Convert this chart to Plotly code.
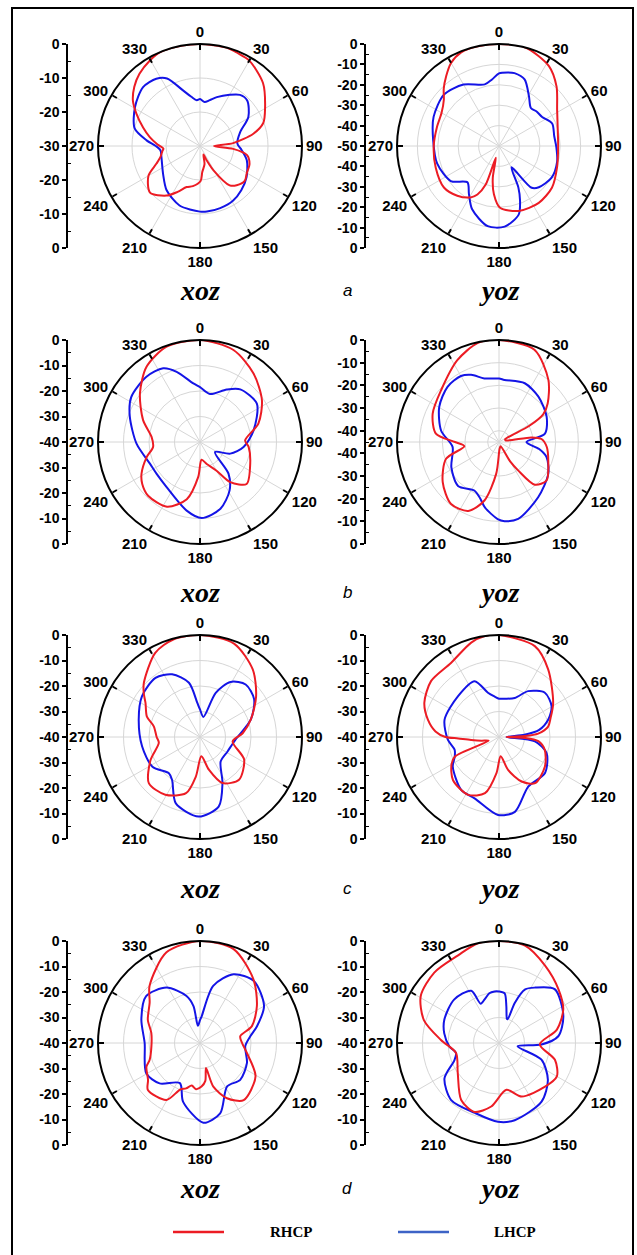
import plotly.graph_objects as go

W, H = 637, 1255

# ---------------- data: angle (deg, clockwise from top) and gain (dB) ----------------
A_XOZ_RHCP_DEG = [0,15,22,30,45,60,70,77,85,90,95,101,110,120,128,137,143,151,155,158,166,175,179,190,198,206,214,227,240,248,255,262,266,272,280,288,297,304,312,320,330,337,350,360]
A_XOZ_RHCP_DB = [0,0,-0.5,-1,-3.8,-7.9,-10.2,-13.9,-20.2,-25.9,-20.2,-15.9,-14.5,-14.1,-13.3,-14.2,-15.5,-21.8,-25.4,-27.3,-24.5,-22.3,-19.7,-18,-17.3,-15,-12.4,-9.9,-12.5,-16.2,-18,-18.8,-19.2,-17.5,-15,-12.4,-9,-6.2,-4,-2.3,-0.8,0,0,0]
A_XOZ_LHCP_DEG = [0,6,12,19,30,38,46,59,71,86,95,107,124,137,149,162,174,180,199,217,233,254,264,270,276,285,301,316,327,334,343,350,356,360]
A_XOZ_LHCP_DB = [-16.2,-17,-16.2,-14.8,-12.6,-10.9,-10.7,-13.4,-17.5,-19,-17.8,-15.6,-13.5,-12.2,-11.2,-10.8,-10.6,-10.7,-11.5,-13.7,-16.4,-18.2,-18.3,-17,-14.2,-10.1,-7.7,-5.9,-6.4,-7.9,-12.9,-15.3,-16.5,-16.2]

A_YOZ_RHCP_DEG = [0,15,32,44,58,78,90,110,128,145,163,179,186,191,195,199,204,209,220,233,251,270,287,300,310,316,323,330,338,348,360]
A_YOZ_RHCP_DB = [0,0,-3.8,-9.4,-16.4,-20.5,-21,-19.7,-17,-16,-16.7,-19.7,-26.2,-34,-44,-30,-24,-21.2,-18.2,-16.2,-17.2,-18,-18.2,-17.5,-14.7,-11,-7,-3,-0.5,0,0]
A_YOZ_LHCP_DEG = [0,7,12,21,31,40,47,56,67,80,91,105,121,136,142,149.6,155,159,164,176,188,203,212,221,234,254,275,294,313,330,347,354,360]
A_YOZ_LHCP_DB = [-14.4,-13.7,-13.5,-15,-21.5,-25.7,-25,-24.5,-21.7,-22.5,-21.9,-20.5,-19.9,-21.9,-24,-37.9,-27.5,-21.2,-15,-10.4,-10.3,-16.3,-22.2,-26.4,-20.8,-18.5,-17.6,-14.9,-13.1,-15.2,-19,-17.2,-14.4]

B_XOZ_RHCP_DEG = [0,20,38,56,72.5,88,96,113,132,143,150,163,175,183,193,207,224,234,241.5,254,264,276,291,309,324.6,340.7,360]
B_XOZ_RHCP_DB = [0,-1.6,-5.9,-10.7,-16,-22.3,-20.8,-18.6,-15.4,-20.3,-27,-31,-33,-26.2,-17,-11.5,-10.7,-12,-13.9,-18.2,-21.5,-20.9,-16.1,-9.7,-3.8,-0.4,0]
B_XOZ_LHCP_DEG = [0,11.8,27,37.4,56,77.7,96.6,111,124,138,148.7,163,178.7,191,216.5,234,246.6,268.5,290,303,320.6,333.4,341.6,353.5,360]
B_XOZ_LHCP_DB = [-18.5,-20.8,-16.9,-14,-13.1,-18.5,-22.8,-27.3,-32.9,-23.3,-17.7,-12.6,-10.2,-12.6,-18,-18.9,-18.6,-15.1,-10.7,-7.8,-6.9,-7.7,-11,-16.9,-18.5]

B_YOZ_RHCP_DEG = [0,21,38.5,51.6,58,62,66,76,82,86,96,110.5,129,140,146,150,160,175,185,194,204,217.7,234.5,252.4,263,270,277.6,293,312,333,348,360]
B_YOZ_RHCP_DB = [0,-1.4,-10,-17.6,-22,-30,-42,-42,-30.5,-26.2,-23.8,-21.8,-18,-20.4,-29.9,-35,-43,-42,-31,-18.4,-11.7,-10.4,-14.5,-20.5,-29.6,-25.6,-16.9,-13.2,-10.7,-4.5,-0.3,0]
B_YOZ_LHCP_DEG = [0,5,23.7,41,62,79.7,90,100,107.6,123,144.7,166,176,181,192,199,207,223,242,264,281,300.5,317,330,337.5,347,360]
B_YOZ_LHCP_DB = [-17,-17.5,-16.7,-18.5,-21.2,-24.4,-32.9,-27,-23,-19.1,-15.1,-10,-10,-11,-15.4,-19,-21,-18.5,-21.2,-24.4,-19,-14.4,-11.7,-11.4,-12.9,-16.2,-17]

C_XOZ_RHCP_DEG = [0,20,38,54,71,85,97.6,117,137.6,154,164.6,176,186,194,211,228,245,262,270,283,291,302,308,314,332,345,360]
C_XOZ_RHCP_DB = [0,-1,-6.4,-12.8,-18.9,-23.2,-27.1,-20.6,-17.3,-19.9,-26.6,-32.4,-24.4,-17.3,-13.6,-13,-18.6,-23.7,-23,-21.4,-17.7,-14.8,-12,-9.4,-2.6,-0.3,0]
C_XOZ_LHCP_DEG = [0,9.5,19.6,29,41,55,71,94,117.7,140,154,165,181,200,213,220.7,238,261,286,305,323,336,348.5,355.5,360]
C_XOZ_LHCP_DB = [-29.2,-32,-21.6,-15.3,-12.7,-14.1,-18.9,-26,-27.8,-27.4,-19.9,-11.7,-8.8,-12.3,-19.9,-21.3,-18,-17,-15,-12.2,-11,-13.1,-18.3,-26.6,-29.2]

C_YOZ_RHCP_DEG = [0,21.5,36,57.8,70,78,85,88,90,92,96,105.5,122.7,142,153,164.6,175,184,194,208,227,240,246,250,258,264,268,270,275,283.7,294.6,309.4,327,343.6,352,360]
C_YOZ_RHCP_DB = [0,-1.7,-7.2,-14.9,-18.5,-20.3,-24.6,-30,-37,-30,-24.5,-21.4,-18.6,-17,-20.4,-26.6,-32.4,-25.8,-17.3,-14.3,-15.3,-18.5,-21,-35.7,-33,-29,-24,-19,-15,-11.3,-7.8,-5.5,-5.4,-1.4,0,0]
C_YOZ_LHCP_DEG = [0,3.5,22,32.4,46,59.6,70.5,80,85,90,97,108.7,128,149.5,168,180.7,201.7,215.6,237.5,246,254,267,287.7,315,336.4,346,354,360]
C_YOZ_LHCP_DB = [-25,-25,-23.5,-18.7,-15,-16.1,-19.5,-24,-30,-37,-25.8,-20.3,-17.1,-17.4,-10,-9.4,-14.1,-14.5,-18.5,-21,-21.9,-19.9,-17.6,-17.3,-16.1,-22.1,-24.1,-25]

D_XOZ_RHCP_DEG = [0,19.7,40,57,72,80.5,90,102,121,142.6,154,163,166.5,172,178,185,191,197,203,210.5,228,234.6,246,251.6,266,281.7,294,308.7,318.6,339.7,360]
D_XOZ_RHCP_DB = [0,-0.9,-7.4,-13.4,-18.6,-24,-23.5,-21.2,-14.6,-11.8,-15.9,-22.1,-29.9,-25,-22.9,-21.8,-23,-21.4,-20.2,-14.1,-12.5,-15,-17,-19.2,-20.9,-20.5,-17.6,-14.7,-10.1,-2.1,0]
D_XOZ_LHCP_DEG = [0,3.6,13,26,41,60,73.6,82.4,94,113,132.5,148,164,177.6,196,206.6,225,240.6,270,292,311,328.8,344,350,353,360]
D_XOZ_LHCP_DB = [-31,-29.5,-17,-10,-7.8,-11,-16.7,-20.1,-22.2,-20,-18.6,-19.9,-11.3,-8.7,-16,-22.4,-17.6,-15.8,-18.3,-15.2,-12,-14.6,-20.8,-25.3,-33.2,-31]

D_YOZ_RHCP_DEG = [0,15,30.8,48,62.5,77,92,106.7,120,133.5,157,171,187,199.6,213.6,234,257,273,287,301,317.4,334.7,348,360]
D_YOZ_RHCP_DB = [0,-0.5,-4.7,-8.6,-11.6,-16.7,-24,-17.1,-13.8,-15.1,-17.2,-21.4,-14.9,-11.3,-13.2,-20,-22.7,-17.2,-9.2,-4.2,-2.5,-2.1,0,0]
D_YOZ_LHCP_DEG = [0,6.5,11.3,18,20,21.5,26,33,46,67,83.5,92,100,111.5,127,144,168.5,180.7,199,220,237,249,257,266,280,293,314,332,335,341.7,349,355,360]
D_YOZ_LHCP_DB = [-19.8,-20.4,-25.3,-30,-30.1,-23,-16.6,-14.1,-9.6,-12.6,-16.6,-23.3,-32.6,-22.1,-16,-11.6,-9.1,-9.1,-11,-10.8,-14.5,-21.3,-22.7,-20.5,-18.2,-16.7,-15.5,-16.8,-23,-22,-20.1,-19.7,-19.8]

PANEL_LETTERS = ["a", "b", "c", "d"]
PLANE_NAMES = ["xoz", "yoz"]
XOZ_MIN_DB = [-30, -40, -40, -40]
YOZ_MIN_DB = [-50, -45, -40, -40]
ANGLE_TICKS = [0, 30, 60, 90, 120, 150, 180, 210, 240, 270, 300, 330]
SERIES_NAMES = ["RHCP", "LHCP"]

CURVES = [
    [(A_XOZ_RHCP_DEG, A_XOZ_RHCP_DB, A_XOZ_LHCP_DEG, A_XOZ_LHCP_DB),
     (A_YOZ_RHCP_DEG, A_YOZ_RHCP_DB, A_YOZ_LHCP_DEG, A_YOZ_LHCP_DB)],
    [(B_XOZ_RHCP_DEG, B_XOZ_RHCP_DB, B_XOZ_LHCP_DEG, B_XOZ_LHCP_DB),
     (B_YOZ_RHCP_DEG, B_YOZ_RHCP_DB, B_YOZ_LHCP_DEG, B_YOZ_LHCP_DB)],
    [(C_XOZ_RHCP_DEG, C_XOZ_RHCP_DB, C_XOZ_LHCP_DEG, C_XOZ_LHCP_DB),
     (C_YOZ_RHCP_DEG, C_YOZ_RHCP_DB, C_YOZ_LHCP_DEG, C_YOZ_LHCP_DB)],
    [(D_XOZ_RHCP_DEG, D_XOZ_RHCP_DB, D_XOZ_LHCP_DEG, D_XOZ_LHCP_DB),
     (D_YOZ_RHCP_DEG, D_YOZ_RHCP_DB, D_YOZ_LHCP_DEG, D_YOZ_LHCP_DB)],
]

# ---------------- layout geometry (pixels) ----------------
R = 102
COL_CX = [200, 499]
ROW_CY = [146, 442, 737, 1043]
AXIS_X = [68, 366]
LABEL_Y = [290, 592, 888, 1188]
LETTER_X = 347

RED = "#ec1c24"
BLUE = "#1414e6"
LEG_BLUE = "#3d63c6"
GRID = "#d6d6d6"
SANS = "Liberation Sans, Arial, sans-serif"
SERIF = "Liberation Serif, Times New Roman, serif"

fig = go.Figure()
layout = dict(
    width=W, height=H, margin=dict(l=0, r=0, t=0, b=0, pad=0, autoexpand=False),
    paper_bgcolor="white", plot_bgcolor="white", showlegend=False,
)
annotations = []
shapes = []


def fx(px):
    return px / W


def fy(py):
    return 1 - py / H


k = 0
for row in range(4):
    for col in range(2):
        k += 1
        cx, cy = COL_CX[col], ROW_CY[row]
        rmin = XOZ_MIN_DB[row] if col == 0 else YOZ_MIN_DB[row]
        pkey = "polar" if k == 1 else f"polar{k}"
        rt, rv, lt, lv = CURVES[row][col]
        fig.add_trace(go.Scatterpolar(
            theta=lt, r=lv, mode="lines", subplot=pkey, name=SERIES_NAMES[1],
            line=dict(color=BLUE, width=2, shape="spline", smoothing=0.8)))
        fig.add_trace(go.Scatterpolar(
            theta=rt, r=rv, mode="lines", subplot=pkey, name=SERIES_NAMES[0],
            line=dict(color=RED, width=2, shape="spline", smoothing=0.8)))
        layout[pkey] = dict(
            domain=dict(x=[fx(cx - R), fx(cx + R)], y=[fy(cy + R), fy(cy - R)]),
            bgcolor="white",
            angularaxis=dict(
                rotation=90, direction="clockwise", tickmode="array",
                tickvals=ANGLE_TICKS, ticktext=[str(a) for a in ANGLE_TICKS],
                ticksuffix="", showline=True, linecolor="black", linewidth=2,
                ticks="inside", ticklen=5, tickwidth=1.5, tickcolor="black",
                showgrid=True, gridcolor=GRID, gridwidth=1,
                tickfont=dict(family=SANS, size=15, color="black", weight="bold"),
            ),
            radialaxis=dict(
                range=[rmin, 0], showline=False, showticklabels=False, ticks="",
                tick0=0, dtick=10, showgrid=True, gridcolor=GRID, gridwidth=1,
            ),
        )

        # left-hand vertical dB scale (0 at rim, minimum at the centre)
        span = -rmin
        labels = list(range(0, rmin - 1, -10))
        tv, tt = [], []
        for L in labels:
            p = span + L
            if p == 0:
                tv.append(0.0)
                tt.append(str(L))
            else:
                tv += [p, -p]
                tt += [str(L), str(L)]
        minor = []
        for m in range(-5, rmin - 1, -10):
            p = span + m
            minor += [p, -p] if p != 0 else [0.0]
        xkey = "xaxis" if k == 1 else f"xaxis{k}"
        ykey = "yaxis" if k == 1 else f"yaxis{k}"
        xa = "x" if k == 1 else f"x{k}"
        ya = "y" if k == 1 else f"y{k}"
        # empty trace so that the scale's subplot is rendered
        fig.add_trace(go.Scatter(x=[], y=[], xaxis=xa, yaxis=ya, mode="lines",
                                 hoverinfo="skip", showlegend=False))
        layout[xkey] = dict(domain=[fx(AXIS_X[col]), fx(AXIS_X[col] + 10)], anchor=ya,
                            visible=False, range=[0, 1], fixedrange=True, automargin=False)
        layout[ykey] = dict(
            domain=[fy(cy + R), fy(cy - R)], anchor=xa, range=[-span, span],
            showline=True, linecolor="black", linewidth=1.5, showgrid=False, zeroline=False,
            tickmode="array", tickvals=tv, ticktext=tt, ticks="outside", ticklen=4,
            tickwidth=1.5, tickcolor="black", automargin=False,
            tickfont=dict(family=SANS, size=14, color="black", weight="bold"),
            minor=dict(tickmode="array", tickvals=minor, ticks="inside", ticklen=3,
                       tickwidth=1.2, tickcolor="black", showgrid=False),
            fixedrange=True,
        )

        annotations.append(dict(
            x=fx(cx), y=fy(LABEL_Y[row]), xref="paper", yref="paper",
            text=f"<b><i>{PLANE_NAMES[col]}</i></b>", showarrow=False,
            xanchor="center", yanchor="middle",
            font=dict(family=SERIF, size=28, color="black")))
    annotations.append(dict(
        x=fx(LETTER_X), y=fy(LABEL_Y[row]), xref="paper", yref="paper",
        text=f"<i>{PANEL_LETTERS[row]}</i>", showarrow=False,
        xanchor="center", yanchor="middle",
        font=dict(family=SANS, size=17, color="black")))

# legend drawn at the bottom
LEG_Y = 1232
for x0, x1, tx, color, name in [(173, 224, 291, RED, SERIES_NAMES[0]),
                                (398, 449, 515, LEG_BLUE, SERIES_NAMES[1])]:
    shapes.append(dict(type="line", xref="paper", yref="paper",
                       x0=fx(x0), x1=fx(x1), y0=fy(LEG_Y), y1=fy(LEG_Y),
                       line=dict(color=color, width=2.5)))
    annotations.append(dict(x=fx(tx), y=fy(LEG_Y), xref="paper", yref="paper",
                            text=f"<b>{name}</b>", showarrow=False,
                            xanchor="center", yanchor="middle",
                            font=dict(family=SERIF, size=15, color="black")))

# outer frame
shapes.append(dict(type="rect", xref="paper", yref="paper",
                   x0=fx(12), x1=fx(633), y0=-0.01, y1=fy(8),
                   line=dict(color="black", width=2), fillcolor="rgba(0,0,0,0)"))

layout["annotations"] = annotations
layout["shapes"] = shapes
fig.update_layout(**layout)
fig.write_html("out.html")
